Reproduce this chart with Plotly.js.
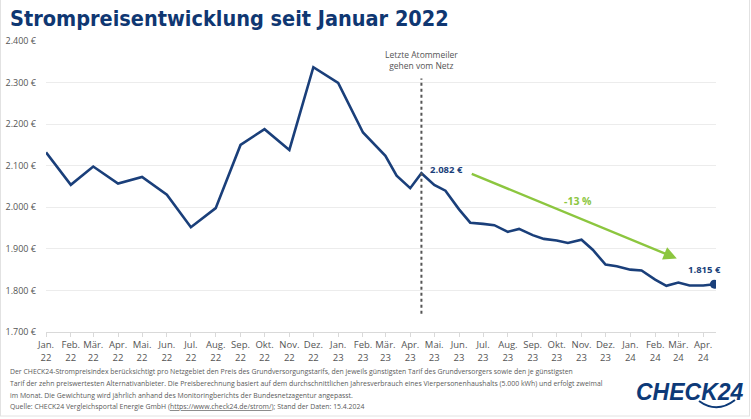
<!DOCTYPE html>
<html>
<head>
<meta charset="utf-8">
<script src="https://cdn.plot.ly/plotly-3.0.1.min.js"></script>
<style>html,body{margin:0;padding:0;background:#fff;}#chart{width:751px;height:419px;}</style>
</head>
<body>
<div id="chart"></div>
<script>
// ---- data ----
const dates = [
  '2022-01-01','2022-02-01','2022-03-01','2022-04-01','2022-05-01','2022-06-01',
  '2022-07-01','2022-08-01','2022-09-01','2022-10-01','2022-11-01','2022-12-01',
  '2023-01-01','2023-02-01','2023-03-01','2023-03-15','2023-04-01','2023-04-15',
  '2023-05-01','2023-05-15','2023-06-01','2023-06-15','2023-07-01','2023-07-15',
  '2023-08-01','2023-08-15','2023-09-01','2023-09-15','2023-10-01','2023-10-15',
  '2023-11-01','2023-11-15','2023-12-01','2023-12-15','2024-01-01','2024-01-15',
  '2024-02-01','2024-02-15','2024-03-01','2024-03-15','2024-04-01','2024-04-15'
];
const prices = [
  2132, 2054, 2098, 2057, 2073, 2030,
  1952, 1998, 2150, 2188, 2138, 2337,
  2299, 2180, 2124, 2076, 2046, 2082,
  2054, 2040, 1995, 1963, 1960, 1957,
  1941, 1948, 1933, 1924, 1920, 1914,
  1922, 1898, 1862, 1858, 1850, 1848,
  1826, 1811, 1819, 1812, 1812, 1815
];
const tickDates = [
  '2022-01-01','2022-02-01','2022-03-01','2022-04-01','2022-05-01','2022-06-01','2022-07-01',
  '2022-08-01','2022-09-01','2022-10-01','2022-11-01','2022-12-01','2023-01-01','2023-02-01',
  '2023-03-01','2023-04-01','2023-05-01','2023-06-01','2023-07-01','2023-08-01','2023-09-01',
  '2023-10-01','2023-11-01','2023-12-01','2024-01-01','2024-02-01','2024-03-01','2024-04-01'
];
const tickLabels = [
  'Jan.<br>22','Feb.<br>22','Mär.<br>22','Apr.<br>22','Mai.<br>22','Jun.<br>22','Jul.<br>22',
  'Aug.<br>22','Sep.<br>22','Okt.<br>22','Nov.<br>22','Dez.<br>22','Jan.<br>23','Feb.<br>23',
  'Mär.<br>23','Apr.<br>23','Mai.<br>23','Jun.<br>23','Jul.<br>23','Aug.<br>23','Sep.<br>23',
  'Okt.<br>23','Nov.<br>23','Dez.<br>23','Jan.<br>24','Feb.<br>24','Mär.<br>24','Apr.<br>24'
];
const yTicks = [1700, 1800, 1900, 2000, 2100, 2200, 2300, 2400];
const yTickLabels = ['1.700 €','1.800 €','1.900 €','2.000 €','2.100 €','2.200 €','2.300 €','2.400 €'];
const eventDate = '2023-04-15';
const eventLabel = 'Letzte Atommeiler<br>gehen vom Netz';
const trendStart = {x: '2023-06-15', y: 2082};
const trendEnd = {x: '2024-02-28', y: 1877};
const trendLabel = '-13 %';
const footnotes = [
  'Der CHECK24-Strompreisindex berücksichtigt pro Netzgebiet den Preis des Grundversorgungstarifs, den jeweils günstigsten Tarif des Grundversorgers sowie den je günstigsten',
  'Tarif der zehn preiswertesten Alternativanbieter. Die Preisberechnung basiert auf dem durchschnittlichen Jahresverbrauch eines Vierpersonenhaushalts (5.000 kWh) und erfolgt zweimal',
  'im Monat. Die Gewichtung wird jährlich anhand des Monitoringberichts der Bundesnetzagentur angepasst.',
  'Quelle: CHECK24 Vergleichsportal Energie GmbH (<u>https://www.check24.de/strom/</u>); Stand der Daten: 15.4.2024'
];

// ---- layout helpers (pixel -> paper) ----
const W = 751, H = 419, M = {l: 46, r: 35, t: 41, b: 87};
const PW = W - M.l - M.r, PH = H - M.t - M.b;
const px = x => (x - M.l) / PW;
const py = y => (H - M.b - y) / PH;

const navy = '#1a3f7a';
const green = '#8cc63f';
const grey = '#555555';

const fmt = v => v.toLocaleString('de-DE') + ' €';
const n = prices.length;

const traces = [
  {x: dates, y: prices, type: 'scatter', mode: 'lines',
   line: {color: navy, width: 2.6}, hoverinfo: 'skip'},
  {x: [dates[n-1]], y: [prices[n-1]], type: 'scatter', mode: 'markers',
   marker: {color: navy, size: 9}, hoverinfo: 'skip'}
];

const evIdx = dates.indexOf(eventDate);

const annotations = [
  {x: eventDate, y: 2355, xref: 'x', yref: 'y', text: eventLabel, showarrow: false,
   font: {family: 'Open Sans', size: 8.5, color: grey}, align: 'center'},
  {x: eventDate, y: prices[evIdx], xref: 'x', yref: 'y', text: '<b>' + fmt(prices[evIdx]) + '</b>',
   showarrow: false, xanchor: 'left', yanchor: 'middle', xshift: 7, yshift: 4,
   font: {family: 'Open Sans', size: 9.5, color: navy}},
  {x: dates[n-1], y: prices[n-1], xref: 'x', yref: 'y', text: '<b>' + fmt(prices[n-1]) + '</b>',
   showarrow: false, xanchor: 'right', yanchor: 'bottom', xshift: 9, yshift: 6,
   font: {family: 'Open Sans', size: 9.5, color: navy}},
  {x: trendEnd.x, y: trendEnd.y, ax: trendStart.x, ay: trendStart.y, xref: 'x', yref: 'y',
   axref: 'x', ayref: 'y', text: '', showarrow: true, arrowhead: 2, arrowsize: 1.1,
   arrowwidth: 2.4, arrowcolor: green, standoff: 0},
  {x: '2023-10-27', y: 2016, xref: 'x', yref: 'y', text: '<b>' + trendLabel + '</b>', showarrow: false,
   font: {family: 'Open Sans', size: 10.5, color: green}},
  {x: px(634), y: py(392), xref: 'paper', yref: 'paper', xanchor: 'left', yanchor: 'middle',
   text: '<b><i>CHECK24</i></b>', showarrow: false,
   font: {family: 'Liberation Sans', size: 23, color: '#0d3a78'}}
];
const footY = [371, 383, 395, 406];
footnotes.forEach((t, i) => {
  annotations.push({x: px(8), y: py(footY[i]), xref: 'paper', yref: 'paper', xanchor: 'left',
    yanchor: 'middle', text: t, showarrow: false, align: 'left',
    font: {family: 'Open Sans', size: 6.9, color: '#5a5a5a'}});
});

const shapes = [
  {type: 'line', xref: 'x', yref: 'y', x0: eventDate, x1: eventDate, y0: 1744, y1: 2310,
   line: {color: '#555', width: 2, dash: 'dot'}},
  {type: 'path', xref: 'paper', yref: 'paper',
   path: `M ${px(699)},${py(401)} Q ${px(717)},${py(414)} ${px(735)},${py(400)}`,
   line: {color: '#0d3a78', width: 2}},
  {type: 'line', xref: 'paper', yref: 'paper', x0: px(749.5), x1: px(749.5), y0: py(0), y1: py(416),
   line: {color: '#e2e2e2', width: 1}},
  {type: 'line', xref: 'paper', yref: 'paper', x0: px(0.5), x1: px(0.5), y0: py(0), y1: py(416),
   line: {color: '#e2e2e2', width: 1}},
  {type: 'line', xref: 'paper', yref: 'paper', x0: px(0), x1: px(750), y0: py(416), y1: py(416),
   line: {color: '#e2e2e2', width: 1}}
];

const layout = {
  width: W, height: H, margin: M,
  paper_bgcolor: '#ffffff', plot_bgcolor: '#ffffff',
  showlegend: false,
  title: {text: 'Strompreisentwicklung seit Januar 2022', xref: 'container', yref: 'container',
          x: 10 / W, xanchor: 'left', y: 1 - 18 / H, yanchor: 'middle',
          font: {family: 'DejaVu Sans Condensed, Liberation Sans', size: 21.5,
                 weight: 'bold', color: '#0f3772'}},
  xaxis: {type: 'date', range: ['2022-01-01', '2024-04-17'], tickmode: 'array',
          tickvals: tickDates, ticktext: tickLabels, showgrid: false, zeroline: false,
          showline: true, linecolor: '#d9d9d9', linewidth: 1, ticks: 'outside', ticklen: 4,
          tickcolor: '#d9d9d9', tickangle: 0,
          tickfont: {family: 'Open Sans', size: 9.5, color: grey}, fixedrange: true},
  yaxis: {range: [1700, 2400], tickmode: 'array', tickvals: yTicks, ticktext: yTickLabels,
          showgrid: true, gridcolor: '#ececec', gridwidth: 1, zeroline: false, showline: false,
          ticks: '', ticklabelstandoff: 9,
          tickfont: {family: 'Open Sans', size: 9, color: grey}, fixedrange: true},
  annotations: annotations,
  shapes: shapes
};

Plotly.newPlot('chart', traces, layout, {displayModeBar: false, staticPlot: true});
</script>
</body>
</html>
